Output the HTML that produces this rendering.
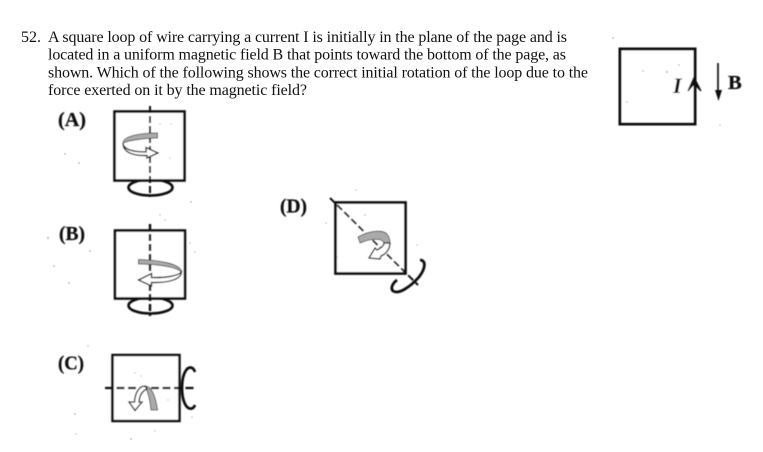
<!DOCTYPE html>
<html>
<head>
<meta charset="utf-8">
<style>
html,body{margin:0;padding:0;background:#fff;width:763px;height:452px;overflow:hidden}
svg{display:block}
.t{font-family:"Liberation Serif",serif;font-size:16px;fill:#111}
.l{font-family:"Liberation Serif",serif;font-size:20.5px;font-weight:bold;fill:#111;stroke:#111;stroke-width:.25}
</style>
</head>
<body>
<svg width="763" height="452" viewBox="0 0 763 452" xmlns="http://www.w3.org/2000/svg">
<defs><filter id="b" x="-5%" y="-5%" width="110%" height="110%"><feGaussianBlur stdDeviation="0.4"/></filter></defs>

<text class="t" x="21" y="42">52.</text>
<text class="t" x="48" y="42" textLength="519" lengthAdjust="spacing">A square loop of wire carrying a current I is initially in the plane of the page and is</text>
<text class="t" x="48" y="59.5" textLength="518" lengthAdjust="spacing">located in a uniform magnetic field B that points toward the bottom of the page, as</text>
<text class="t" x="48" y="77.5" textLength="540" lengthAdjust="spacing">shown. Which of the following shows the correct initial rotation of the loop due to the</text>
<text class="t" x="48" y="95" textLength="259" lengthAdjust="spacing">force exerted on it by the magnetic field?</text>

<g filter="url(#b)">
<text class="l" x="58" y="126" textLength="28" lengthAdjust="spacingAndGlyphs">(A)</text>
<text class="l" x="59" y="240" textLength="26" lengthAdjust="spacingAndGlyphs">(B)</text>
<text class="l" x="58" y="369.5" textLength="26" lengthAdjust="spacingAndGlyphs">(C)</text>
<text class="l" x="280" y="212.5" textLength="27" lengthAdjust="spacingAndGlyphs">(D)</text>

<!-- Reference loop -->
<rect x="620" y="49" width="75" height="75" fill="#fff" stroke="#111" stroke-width="3"/>
<path d="M688,91 L694,77 L701,91 L694,84 Z" fill="#111" stroke="#111" stroke-width="1.2"/>
<text x="673" y="93" font-family="Liberation Serif,serif" font-size="22" font-style="italic" font-weight="bold" fill="#111">I</text>
<path d="M718,63 V92" stroke="#222" stroke-width="1.8" fill="none"/>
<path d="M715,90 H722 L718.5,101 Z" fill="#111"/>
<text x="728" y="89" font-family="Liberation Serif,serif" font-size="20.5" font-weight="bold" fill="#111" stroke="#111" stroke-width=".3">B</text>

<!-- A -->
<ellipse cx="150.5" cy="187.5" rx="22" ry="8" fill="none" stroke="#111" stroke-width="2.6"/>
<rect x="114.5" y="111.5" width="70" height="69" fill="#fff" stroke="#111" stroke-width="2.6"/>
<path d="M150,106 V197" stroke="#111" stroke-width="2" stroke-dasharray="7,3" fill="none"/>
<path d="M157.5,133 C140,133 123,136 123,143 C127,141 140,138.5 157.5,138 Z" fill="#aaa" stroke="#333" stroke-width=".8"/>
<path d="M123,143 C123,150 135,152 146,152 L146,147.5 L158,153 L147,158 L147,155.5 C132,156 123,152 123,143 Z" fill="#fff" stroke="#111" stroke-width="1.3"/>

<!-- B -->
<ellipse cx="150.5" cy="305.5" rx="22" ry="8" fill="none" stroke="#111" stroke-width="2.6"/>
<rect x="115" y="230.5" width="70" height="68" fill="#fff" stroke="#111" stroke-width="2.6"/>
<path d="M150,224 V316" stroke="#111" stroke-width="2.4" stroke-dasharray="7,3" fill="none"/>
<path d="M138.5,259.5 C160,260 181,264 181.5,272 C176,267 160,264.5 138.5,264 Z" fill="#aaa" stroke="#333" stroke-width=".8"/>
<path d="M181.5,272 C181,279 170,283 151.5,282.5 L151.5,286 L138.5,280 L151.5,273.5 L151.5,277.5 C165,278 178,276 181.5,272 Z" fill="#fff" stroke="#111" stroke-width="1.3"/>

<!-- C -->
<path d="M195,372 C193,366 188,366 185,372 C181,380 181,396 185,404 C188,410 193,410 195,405" fill="none" stroke="#111" stroke-width="2.7"/>
<rect x="112.5" y="355" width="67" height="66" fill="#fff" stroke="#111" stroke-width="2.5"/>
<path d="M105,388 H197" stroke="#111" stroke-width="2.2" stroke-dasharray="8,3.5" fill="none"/>
<path d="M145,386 C152,386 156,398 157.5,410 H151 C150,400 148,392 145,386 Z" fill="#aaa" stroke="#333" stroke-width=".8"/>
<path d="M145,386 C139,386 135,393 134.5,402 L129,402 L135,410.5 L142,402 L139,402 C139.5,396 142,391 147,389 Z" fill="#fff" stroke="#111" stroke-width="1.3"/>

<!-- D -->
<rect x="335.5" y="202.5" width="70" height="71" fill="#fff" stroke="#111" stroke-width="2.7"/>
<path d="M330,198 L418,285" stroke="#111" stroke-width="2" stroke-dasharray="7,3" fill="none"/>
<path d="M420,260 C426,260 426,268 419,277 C411,286 399,295 393,291 C390,288 393,283 397,280" fill="none" stroke="#111" stroke-width="2.8"/>
<path d="M358,237 C368,231 382,229 387,234 C390,238 390,241 390,243 L384,243 C382,238 372,238 360,243 Z" fill="#aaa" stroke="#333" stroke-width=".8"/>
<path d="M390,243 C390,249 386,254 381,256 L380,259 L369,258 L375,248 L377,250 C381,248 384,246 384,243 Z" fill="#fff" stroke="#111" stroke-width="1.3"/>

<!-- scan specks -->
<g fill="#666">
<circle cx="613" cy="38" r=".6"/><circle cx="643" cy="71" r=".6"/><circle cx="667" cy="72" r=".7"/><circle cx="679" cy="65" r=".6"/><circle cx="627" cy="102" r=".6"/><circle cx="720" cy="125" r=".5"/>
<circle cx="65" cy="154" r=".6"/><circle cx="79" cy="163" r=".6"/><circle cx="160" cy="124" r=".5"/><circle cx="171" cy="124" r=".5"/><circle cx="170" cy="158" r=".5"/><circle cx="191" cy="202" r=".6"/>
<circle cx="48" cy="238" r=".7"/><circle cx="90" cy="251" r=".6"/><circle cx="54" cy="266" r=".6"/><circle cx="69" cy="283" r=".6"/><circle cx="160" cy="215" r=".5"/><circle cx="165" cy="220" r=".5"/><circle cx="190" cy="243" r=".5"/><circle cx="195" cy="252" r=".5"/>
<circle cx="88" cy="346" r=".5"/><circle cx="75" cy="414" r=".6"/><circle cx="76" cy="434" r=".5"/><circle cx="131" cy="439" r=".6"/><circle cx="135" cy="373" r=".5"/><circle cx="141" cy="376" r=".5"/><circle cx="168" cy="400" r=".5"/><circle cx="155" cy="431" r=".5"/><circle cx="192" cy="417" r=".5"/>
<circle cx="356" cy="190" r=".5"/><circle cx="365" cy="215" r=".6"/><circle cx="326" cy="223" r=".5"/><circle cx="417" cy="245" r=".5"/><circle cx="337" cy="257" r=".5"/>
</g>
</g>
</svg>
</body>
</html>
